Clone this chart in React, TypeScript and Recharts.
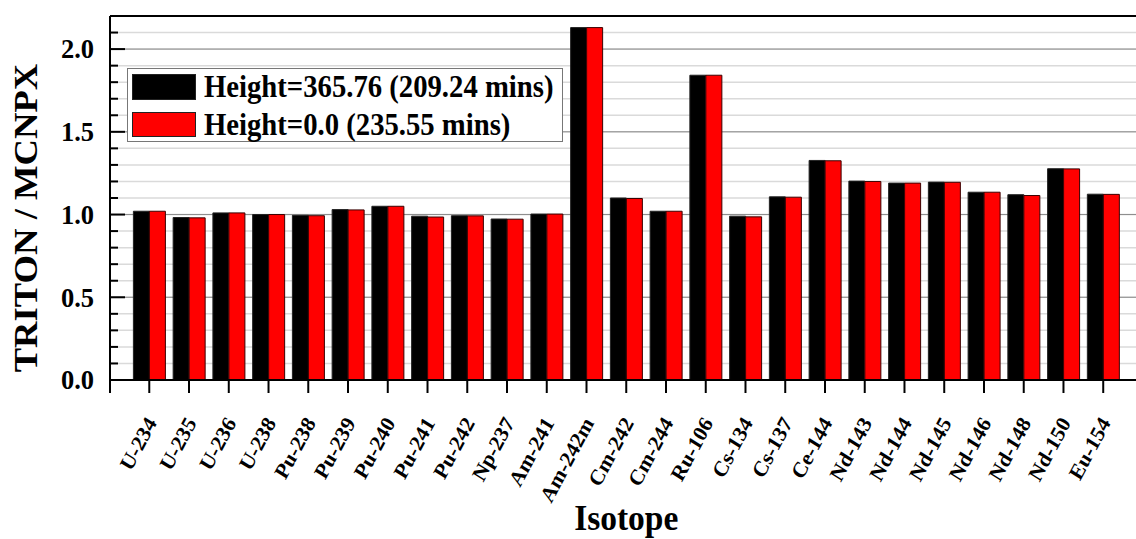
import React from 'react';
import { BarChart, Bar, XAxis, YAxis, CartesianGrid, Legend, ReferenceLine } from 'recharts';

const categories = ['U-234', 'U-235', 'U-236', 'U-238', 'Pu-238', 'Pu-239', 'Pu-240', 'Pu-241', 'Pu-242', 'Np-237', 'Am-241', 'Am-242m', 'Cm-242', 'Cm-244', 'Ru-106', 'Cs-134', 'Cs-137', 'Ce-144', 'Nd-143', 'Nd-144', 'Nd-145', 'Nd-146', 'Nd-148', 'Nd-150', 'Eu-154'];
const height365 = [1.02, 0.982, 1.01, 1.0, 0.995, 1.03, 1.05, 0.99, 0.993, 0.973, 1.003, 2.13, 1.1, 1.02, 1.842, 0.99, 1.107, 1.327, 1.202, 1.19, 1.196, 1.135, 1.12, 1.277, 1.123];
const height0 = [1.02, 0.98, 1.01, 1.0, 0.993, 1.028, 1.05, 0.985, 0.992, 0.972, 1.003, 2.13, 1.097, 1.02, 1.842, 0.986, 1.105, 1.325, 1.2, 1.19, 1.195, 1.135, 1.115, 1.276, 1.122];
const seriesNames = ['Height=365.76 (209.24 mins)', 'Height=0.0 (235.55 mins)'];
const yTicks = [0, 0.1, 0.2, 0.3, 0.4, 0.5, 0.6, 0.7, 0.8, 0.9, 1.0, 1.1, 1.2, 1.3, 1.4, 1.5, 1.6, 1.7, 1.8, 1.9, 2.0, 2.1];
const yMajorTicks = [0, 0.5, 1.0, 1.5, 2.0];
const yMajorLabels = ['0.0', '0.5', '1.0', '1.5', '2.0'];
const yMax = 2.2;

const data = categories.map((name, i) => ({ name, h365: height365[i], h0: height0[i] }));

const FONT = "'Liberation Serif', 'Times New Roman', serif";

function isMajor(v: number) {
  return yMajorTicks.some((m) => Math.abs(m - v) < 1e-6);
}

function YTick(props: any) {
  const { x, y, payload } = props;
  const v = payload.value as number;
  const major = isMajor(v);
  const idx = yMajorTicks.findIndex((m) => Math.abs(m - v) < 1e-6);
  return (
    <g>
      <line x1={x} x2={x + (major ? 15 : 8)} y1={y} y2={y} stroke="#000" strokeWidth={2} />
      {v === 0 && <line x1={x} x2={x} y1={y} y2={y + 13} stroke="#000" strokeWidth={2} />}
      {major && (
        <text x={x - 16} y={y} dy="0.35em" textAnchor="end" fontFamily={FONT} fontWeight="bold" fontSize={26.5} fill="#000">
          {yMajorLabels[idx]}
        </text>
      )}
    </g>
  );
}

function XTick(props: any) {
  const { x, y, payload } = props;
  return (
    <g transform={`translate(${x + 8},${y + 28}) scale(1,1.08) rotate(-60)`}>
      <text x={0} y={0} textAnchor="end" fontFamily={FONT} fontWeight="bold" fontSize={20.5} fill="#000">
        {payload.value}
      </text>
    </g>
  );
}

function YLabel(props: any) {
  const vb = props.viewBox || { x: 0, y: 16, width: 110, height: 364 };
  const cx = vb.x + 37;
  const cy = vb.y + vb.height / 2 + 20;
  return (
    <g transform={`translate(${cx},${cy}) scale(1,1.11) rotate(-90)`}>
      <text x={0} y={0} textAnchor="middle" fontFamily={FONT} fontWeight="bold" fontSize={33} fill="#000">
        TRITON / MCNPX
      </text>
    </g>
  );
}

function XLabel(props: any) {
  const vb = props.viewBox || { x: 110, y: 380, width: 1032, height: 159 };
  const cx = vb.x + vb.width / 2;
  return (
    <g transform={`translate(${cx},${vb.y + 150}) scale(1,1.08)`}>
      <text x={0} y={0} textAnchor="middle" fontFamily={FONT} fontWeight="bold" fontSize={33.5} fill="#000">
        Isotope
      </text>
    </g>
  );
}

function LegendBox(props: any) {
  const payload = props.payload || [];
  const ordered = seriesNames.map((n) => payload.find((p: any) => p.value === n)).filter(Boolean);
  const rows = [
    { sy: 6, sh: 26, ty: 28.7 },
    { sy: 44, sh: 25, ty: 67 },
  ];
  return (
    <svg width={436} height={74} style={{ display: 'block' }}>
      <rect x={0.5} y={0.5} width={435} height={73} fill="#fff" stroke="#777" strokeWidth={1} />
      {ordered.map((p: any, i: number) => (
        <g key={i}>
          <rect x={5.5} y={rows[i].sy + 0.5} width={63} height={rows[i].sh - 1} fill={p.color} stroke="#222" strokeWidth={1} />
          <g transform={`translate(77,${rows[i].ty}) scale(1,1.13)`}>
            <text x={0} y={0} fontFamily={FONT} fontWeight="bold" fontSize={28.7} fill="#000">
              {p.value}
            </text>
          </g>
        </g>
      ))}
    </svg>
  );
}

function majorGridCoords(p: any) {
  const off = p.offset || { top: 16, height: 364 };
  return yMajorTicks.map((v) => off.top + off.height * (1 - v / yMax));
}

export default function App() {
  return (
    <div style={{ position: 'absolute', left: 0, top: 0, width: 1136, height: 539, overflow: 'hidden', background: '#fff' }}>
      <BarChart
        width={1150}
        height={539}
        data={data}
        margin={{ top: 16, right: 7.5, left: 0, bottom: 0 }}
        barGap={0}
        barSize={16}
      >
        <CartesianGrid vertical={false} stroke="#dadada" strokeWidth={1.5} />
        <CartesianGrid
          vertical={false}
          stroke="#8c8c8c"
          strokeWidth={1}
          horizontalCoordinatesGenerator={majorGridCoords}
        />
        <XAxis
          dataKey="name"
          interval={0}
          height={159}
          tickSize={13}
          padding={{ left: 19.4, right: 19.4 }}
          tickLine={{ stroke: '#000', strokeWidth: 2 }}
          axisLine={{ stroke: '#000', strokeWidth: 2 }}
          tick={<XTick />}
          label={<XLabel />}
        />
        <YAxis
          type="number"
          domain={[0, yMax]}
          ticks={yTicks}
          interval={0}
          width={110}
          tickSize={0}
          tickMargin={0}
          tickLine={false}
          axisLine={{ stroke: '#000', strokeWidth: 2 }}
          tick={<YTick />}
          label={<YLabel />}
        />
        <ReferenceLine y={yMax} stroke="#000" strokeWidth={2} />
        <Legend
          layout="horizontal"
          verticalAlign="middle"
          align="center"
          content={<LegendBox />}
          wrapperStyle={{ position: 'absolute', left: 127, top: 68, width: 436, height: 74 }}
        />
        <Bar dataKey="h365" name={seriesNames[0]} fill="#000000" stroke="#222" strokeWidth={1} isAnimationActive={false} />
        <Bar dataKey="h0" name={seriesNames[1]} fill="#ff0000" stroke="#3a0000" strokeWidth={1} isAnimationActive={false} />
      </BarChart>
    </div>
  );
}
